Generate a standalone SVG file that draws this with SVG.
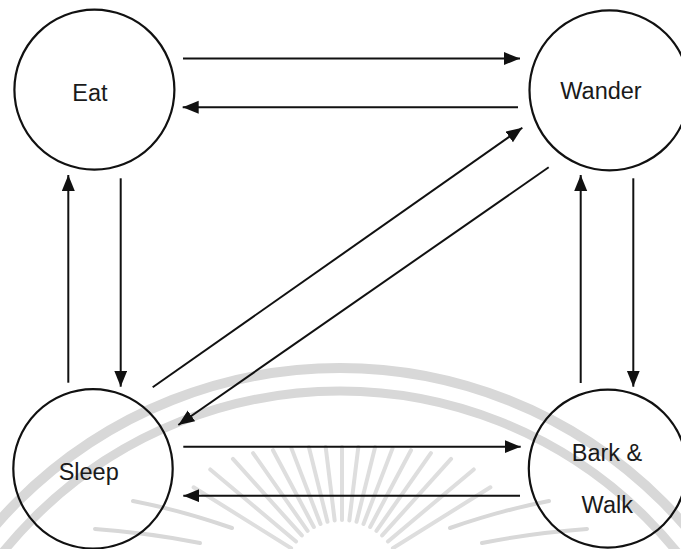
<svg xmlns="http://www.w3.org/2000/svg" width="681" height="549" viewBox="0 0 681 549">
  <defs>
    <marker id="arrow" markerUnits="userSpaceOnUse" markerWidth="17" markerHeight="14" refX="16" refY="6.5" orient="auto">
      <path d="M0,0 L16,6.5 L0,13 z" fill="#111"/>
    </marker>
    <style>
      .state { fill: none; stroke: #111; stroke-width: 2.2; }
      .label { font-family: "Liberation Sans", Arial, sans-serif; font-size: 23.5px; fill: #1a1a1a; text-anchor: middle; }
      .edge { stroke: #111; stroke-width: 2; fill: none; marker-end: url(#arrow); }
      .seal { stroke: #d8d8d8; fill: none; stroke-linecap: round; }
      .ray { stroke: #dedede; stroke-width: 4; stroke-linecap: round; }
    </style>
  </defs>

  <rect width="681" height="549" fill="#fff"/>

  <!-- background seal -->
  <g id="seal">
    <circle class="seal" cx="340" cy="824" r="456" stroke-width="10"/>
    <circle class="seal" cx="340" cy="824" r="433" stroke-width="9"/>
    <g transform="translate(342,580)">
      <line class="ray" x1="0" y1="-60" x2="0" y2="-175" transform="rotate(-58)"/>
      <line class="ray" x1="0" y1="-60" x2="0" y2="-172" transform="rotate(-50)"/>
      <line class="ray" x1="0" y1="-60" x2="0" y2="-163" transform="rotate(-42)"/>
      <line class="ray" x1="0" y1="-60" x2="0" y2="-155" transform="rotate(-35)"/>
      <line class="ray" x1="0" y1="-60" x2="0" y2="-147" transform="rotate(-28)"/>
      <line class="ray" x1="0" y1="-60" x2="0" y2="-141" transform="rotate(-21)"/>
      <line class="ray" x1="0" y1="-60" x2="0" y2="-137" transform="rotate(-14)"/>
      <line class="ray" x1="0" y1="-60" x2="0" y2="-134" transform="rotate(-7)"/>
      <line class="ray" x1="0" y1="-60" x2="0" y2="-133"/>
      <line class="ray" x1="0" y1="-60" x2="0" y2="-134" transform="rotate(7)"/>
      <line class="ray" x1="0" y1="-60" x2="0" y2="-137" transform="rotate(14)"/>
      <line class="ray" x1="0" y1="-60" x2="0" y2="-141" transform="rotate(21)"/>
      <line class="ray" x1="0" y1="-60" x2="0" y2="-147" transform="rotate(28)"/>
      <line class="ray" x1="0" y1="-60" x2="0" y2="-155" transform="rotate(35)"/>
      <line class="ray" x1="0" y1="-60" x2="0" y2="-163" transform="rotate(42)"/>
      <line class="ray" x1="0" y1="-60" x2="0" y2="-172" transform="rotate(50)"/>
      <line class="ray" x1="0" y1="-60" x2="0" y2="-175" transform="rotate(58)"/>
    </g>
    <!-- wing strokes -->
    <path class="seal" stroke-width="4" d="M133,501 Q180,510 232,528"/>
    <path class="seal" stroke-width="4" d="M95,529 Q150,533 200,543"/>
    <path class="seal" stroke-width="4" d="M549,501 Q502,510 450,528"/>
    <path class="seal" stroke-width="4" d="M587,529 Q532,533 482,543"/>
  </g>

  <!-- connectors -->
  <g id="connectors">
    <line class="edge" x1="183" y1="58.5" x2="520" y2="58.5"/>
    <line class="edge" x1="518" y1="107.3" x2="182.7" y2="107.3"/>
    <line class="edge" x1="183.3" y1="446.7" x2="520.7" y2="446.7"/>
    <line class="edge" x1="520" y1="495.7" x2="183.3" y2="495.7"/>
    <line class="edge" x1="68.3" y1="382.7" x2="68.3" y2="175"/>
    <line class="edge" x1="120.7" y1="178.3" x2="120.7" y2="386.7"/>
    <line class="edge" x1="580.7" y1="383" x2="580.7" y2="175"/>
    <line class="edge" x1="633.3" y1="178.3" x2="633.3" y2="386.7"/>
    <line class="edge" x1="152.7" y1="387.3" x2="522.3" y2="127.7"/>
    <line class="edge" x1="548.7" y1="167.3" x2="178.3" y2="425"/>
  </g>

  <!-- states -->
  <g id="eat">
    <circle class="state" cx="94.4" cy="89.7" r="80"/>
    <text class="label" x="90" y="100.5">Eat</text>
  </g>
  <g id="wander">
    <circle class="state" cx="609.5" cy="90.3" r="80"/>
    <text class="label" x="601" y="99">Wander</text>
  </g>
  <g id="sleep">
    <circle class="state" cx="93" cy="468.8" r="79.7"/>
    <text class="label" x="88.7" y="480">Sleep</text>
  </g>
  <g id="bark-walk">
    <circle class="state" cx="607.8" cy="468.6" r="79"/>
    <text class="label" x="607" y="460.7">Bark &amp;</text>
    <text class="label" x="607.3" y="512.7">Walk</text>
  </g>
</svg>
